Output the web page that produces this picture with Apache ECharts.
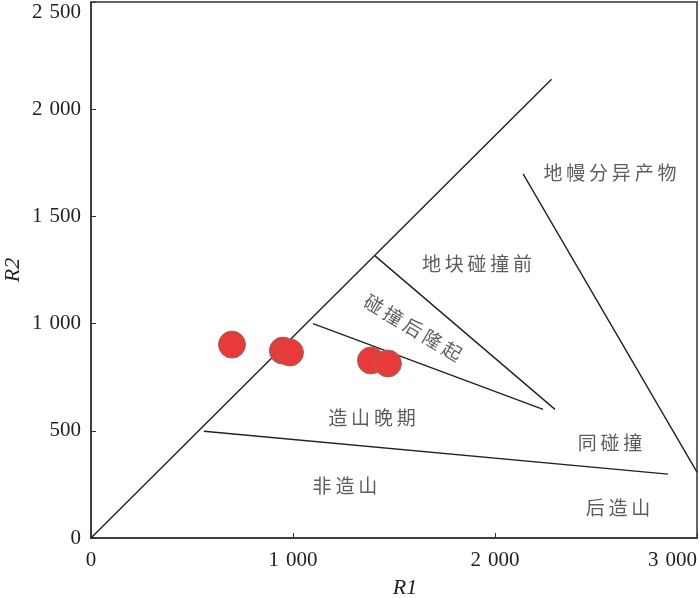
<!DOCTYPE html>
<html>
<head>
<meta charset="utf-8">
<script src="https://cdn.jsdelivr.net/npm/echarts@6/dist/echarts.min.js"></script>
<style>
  html, body { margin: 0; padding: 0; background: #fff; }
  #d_chart { width: 700px; height: 598px; }
</style>
</head>
<body>
<div id="d_chart"></div>
<script>
// samples (R1, R2)
var sampleR1 = [698, 950, 985, 1386, 1470]
var sampleR2 = [902, 874, 865, 828, 814]

// field boundaries, each [R1, R2] end points
var lineDiag = [[0, 0], [2280, 2140]]
var lineMantle = [[2139, 1698], [3000, 307]]
var linePreCollision = [[1406, 1316], [2297, 600]]
var lineUplift = [[1099, 1000], [2238, 600]]
var lineOrogenic = [[559, 498], [2856, 298]]

// field names and where they sit
var fieldNames = ['地幔分异产物', '地块碰撞前', '碰撞后隆起', '造山晚期', '同碰撞', '非造山', '后造山']
var fieldR1 = [2569, 1911, 1594, 1391, 2569, 1257, 2609]
var fieldR2 = [1702, 1279, 981, 563, 442, 242, 140]
var fieldRotate = [0, 0, -31, 0, 0, 0, 0]

var xTicks = [0, 1000, 2000, 3000]
var yTicks = [0, 500, 1000, 1500, 2000, 2500]

function fmt (v) {
  // thousands separated by a small space, like the printed figure
  if (v < 1000) return String(v)
  var s = String(v)
  return s.slice(0, s.length - 3) + '\u2004' + s.slice(s.length - 3)
}
function spaced (t) {
  return t.split('').join('\u2009')
}

var chart = echarts.init(document.getElementById('d_chart'))

var boundaryStyle = { color: '#222', width: 1.4 }
function boundary (pts) {
  return {
    type: 'line',
    data: pts,
    symbol: 'none',
    silent: true,
    lineStyle: boundaryStyle,
    z: 2
  }
}

var fieldData = fieldNames.map(function (n, i) {
  return {
    value: [fieldR1[i], fieldR2[i]],
    name: n,
    label: { rotate: fieldRotate[i] }
  }
})

var option = {
  animation: false,
  grid: {
    left: 91,
    right: 3,
    top: 2,
    bottom: 60,
    outerBoundsMode: 'none',
    containLabel: false,
    show: true,
    borderColor: '#333',
    borderWidth: 1.5
  },
  xAxis: {
    type: 'value',
    min: 0,
    max: 3000,
    interval: 1000,
    name: 'R1',
    nameLocation: 'middle',
    nameGap: 39,
    nameTextStyle: {
      fontFamily: 'Liberation Serif',
      fontStyle: 'italic',
      fontSize: 22,
      color: '#222',
      padding: [0, 0, 0, 22]
    },
    axisLine: { lineStyle: { color: '#333', width: 1.5 } },
    axisTick: { inside: true, length: 5, lineStyle: { color: '#333' } },
    splitLine: { show: false },
    axisLabel: {
      fontFamily: 'Liberation Serif',
      fontSize: 21,
      color: '#222',
      margin: 12,
      alignMaxLabel: 'right',
      formatter: function (v) { return xTicks.indexOf(v) >= 0 ? fmt(v) : '' }
    }
  },
  yAxis: {
    type: 'value',
    min: 0,
    max: 2500,
    interval: 500,
    name: 'R2',
    nameLocation: 'middle',
    nameGap: 67,
    nameMoveOverlap: false,
    nameTextStyle: {
      fontFamily: 'Liberation Serif',
      fontStyle: 'italic',
      fontSize: 22,
      color: '#222'
    },
    axisLine: { lineStyle: { color: '#333', width: 1.5 } },
    axisTick: { inside: true, length: 5, lineStyle: { color: '#333' } },
    splitLine: { show: false },
    axisLabel: {
      fontFamily: 'Liberation Serif',
      fontSize: 21,
      color: '#222',
      margin: 10,
      verticalAlignMaxLabel: 'top',
      formatter: function (v) { return yTicks.indexOf(v) >= 0 ? fmt(v) : '' }
    }
  },
  series: [
    boundary(lineDiag),
    boundary(lineMantle),
    boundary(linePreCollision),
    boundary(lineUplift),
    boundary(lineOrogenic),
    {
      type: 'scatter',
      data: fieldData,
      symbolSize: 0,
      silent: true,
      label: {
        show: true,
        position: 'inside',
        formatter: function (p) { return spaced(p.name) },
        fontFamily: 'Noto Sans CJK SC',
        fontSize: 19,
        color: '#333'
      },
      z: 3
    },
    {
      type: 'scatter',
      data: sampleR1.map(function (x, i) { return [x, sampleR2[i]] }),
      symbol: 'circle',
      symbolSize: 27,
      itemStyle: {
        color: '#e83a38',
        opacity: 1,
        borderColor: '#8a6a66',
        borderWidth: 1
      },
      z: 4
    }
  ]
}
chart.setOption(option, true)
</script>
</body>
</html>
